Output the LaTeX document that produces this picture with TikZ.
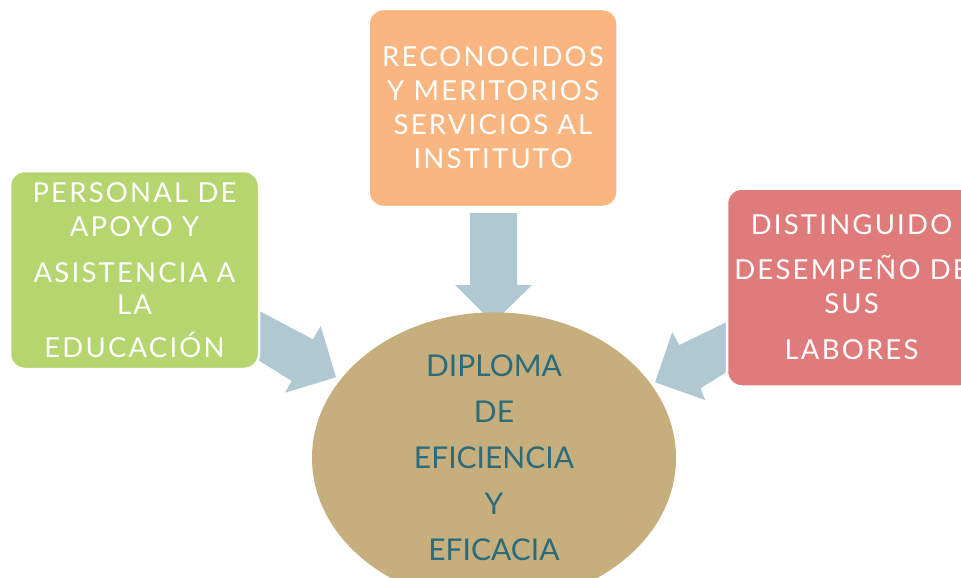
\documentclass[tikz,border=0pt]{standalone}
\usepackage{fontspec}
\setmainfont{Lato}
\newfontfamily\boxfont{Lato}[LetterSpace=8]
\usetikzlibrary{shapes.geometric}
\definecolor{cgreen}{HTML}{B5D56E}
\definecolor{corange}{HTML}{F9B681}
\definecolor{cred}{HTML}{E07B7B}
\definecolor{carrow}{HTML}{AFC8D2}
\definecolor{cell}{HTML}{C6AF7D}
\definecolor{cteal}{HTML}{2B6B7B}
\begin{document}
\begin{tikzpicture}[x=1pt,y=-1pt,
  box/.style={draw=white,line width=2.5pt,rounded corners=15pt,minimum width=249pt,minimum height=198pt,
    text=white,align=center,inner sep=0pt,font=\boxfont\fontsize{27.5}{34}\selectfont},
  blockarrow/.style={fill=carrow,draw=none}]
\useasboundingbox (0,0) rectangle (961,578);
\clip (0,0) rectangle (961,578);
% block arrows
\fill[blockarrow] (470,213) -- (517,213) -- (517,285) -- (532,285) -- (493,323) -- (455,285) -- (470,285) -- cycle;
\fill[blockarrow] (250,306) -- (313,339.3) -- (320.7,326) -- (336,377.3) -- (285,392.7) -- (291.7,381) -- (250,355) -- cycle;
\fill[blockarrow] (735,318) -- (679.3,345) -- (672.3,332.3) -- (655,382.3) -- (705,400) -- (700.7,388.3) -- (735,366.6) -- cycle;
% boxes
\node[box,fill=corange] (top) at (493,108) {RECONOCIDOS\\Y MERITORIOS\\SERVICIOS AL\\INSTITUTO};
\node[box,fill=cgreen] (left) at (134.5,270) {PERSONAL DE\\APOYO Y\\[12pt]ASISTENCIA A\\[-2pt]LA\\[9pt]EDUCACIÓN};
\node[box,fill=cred] (right) at (851.5,287.5) {DISTINGUIDO\\[11pt]DESEMPEÑO DE\\SUS\\[12pt]LABORES};
\node[ellipse,fill=cell,minimum width=364pt,minimum height=238pt,inner sep=0pt,text=cteal,align=center,
  font=\fontsize{30}{46}\selectfont] (dip) at (494,458) {DIPLOMA\\DE\\EFICIENCIA\\Y\\EFICACIA};
\end{tikzpicture}
\end{document}
